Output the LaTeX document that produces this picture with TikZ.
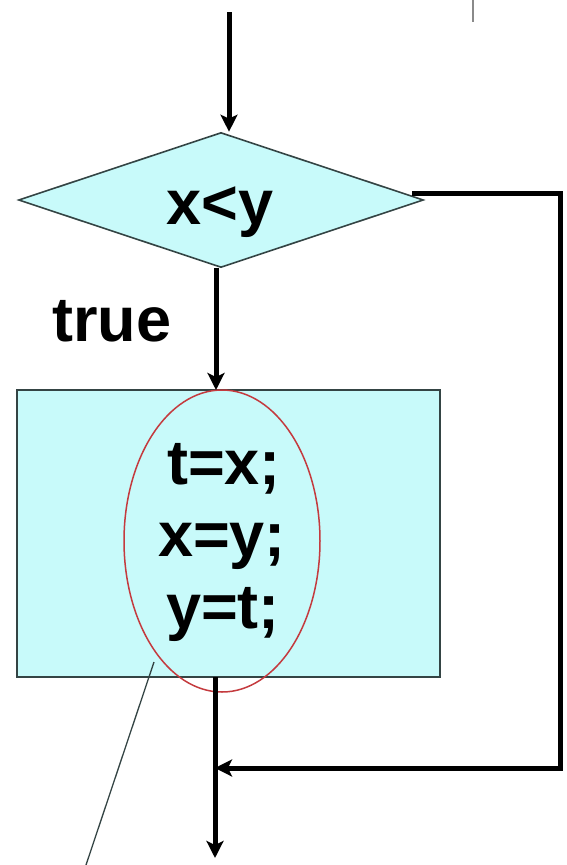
\documentclass[tikz,border=0pt]{standalone}
\usepackage{fontspec}
\setmainfont{Liberation Sans}
\usetikzlibrary{shapes.geometric,arrows.meta}
\definecolor{boxfill}{HTML}{C8FAFA}
\definecolor{edgegray}{HTML}{344444}
\definecolor{ellred}{HTML}{C43A3E}
\definecolor{tickgray}{HTML}{8A8A8A}
\begin{document}
\begin{tikzpicture}[x=1pt,y=-1pt,
  flow/.style={line width=5pt,-{Stealth[length=17pt,width=17pt,inset=4pt]}},
  bigtext/.style={font=\fontsize{63}{70}\selectfont\bfseries,inner sep=0pt,anchor=base},
  shapeedge/.style={draw=edgegray,line width=1.6pt,fill=boxfill},
  pointer/.style={draw=edgegray,line width=1.3pt}]
\useasboundingbox (0,0) rectangle (567,865);
% decision
\node[diamond,shapeedge,minimum width=405pt,minimum height=135pt,inner sep=0pt,aspect=3] (d) at (221,200) {};
\node[bigtext] (cond) at (220,224) {x<y};
% process box
\node[rectangle,shapeedge,minimum width=423pt,minimum height=287pt,inner sep=0pt] (b) at (228.5,533.5) {};
\node[ellipse,draw=ellred,line width=1.5pt,minimum width=196pt,minimum height=302pt,inner sep=0pt] (e) at (222,541) {};
\node[bigtext] (l1) at (224,484) {t=x;};
\node[bigtext] (l2) at (222,556) {x=y;};
\node[bigtext] (l3) at (223,628) {y=t;};
\node[bigtext] (tr) at (112,341) {true};
% coordinates
\coordinate (s) at (229,12);
\coordinate (ds) at (412,193);
\coordinate (rc) at (560,193);
\coordinate (rb) at (560,768);
\coordinate (j) at (215,768);
\coordinate (dn) at (216,268);
\coordinate (bn) at (216,390);
\coordinate (bs) at (215,677);
\coordinate (en) at (215,858);
\coordinate (p1) at (154,662);
\coordinate (p2) at (86,865);
\coordinate (t1) at (473,0);
\coordinate (t2) at (473,22);
% connectors
\draw[flow] (s) -- (s |- d.north);
\draw[flow] (dn) -- (bn);
\draw[flow] (bs) -- (en);
\draw[flow] (ds) -- (rc) -- (rb) -- (j);
\draw[pointer] (p1) -- (p2);
\draw[tickgray,line width=2pt] (t1) -- (t2);
\end{tikzpicture}
\end{document}
